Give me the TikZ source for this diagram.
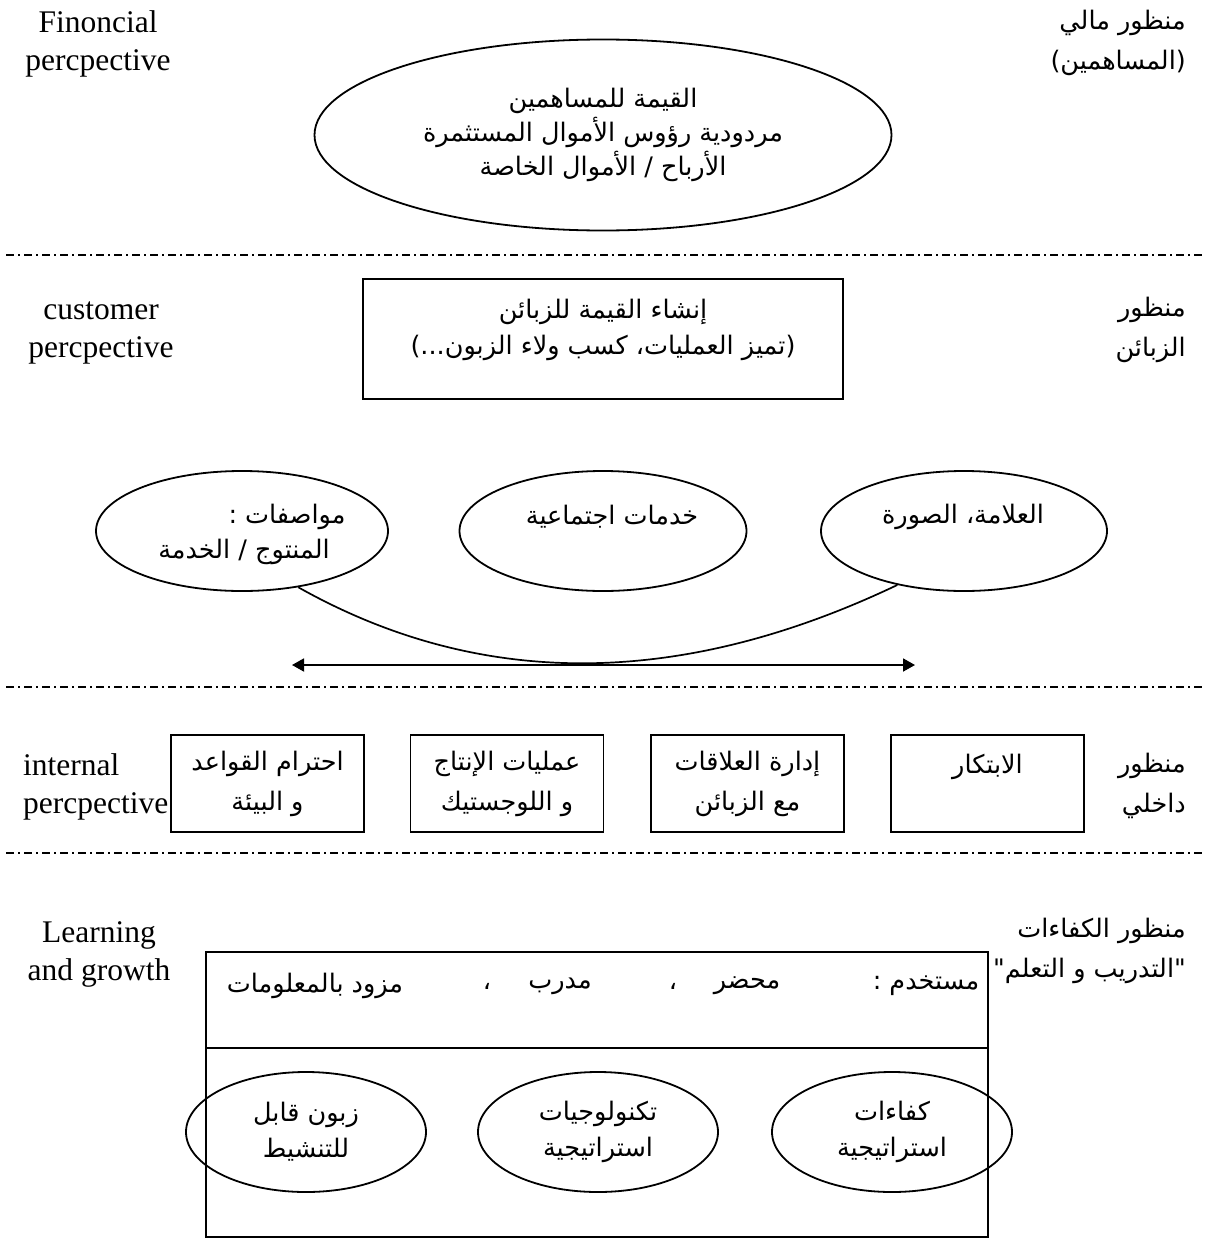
\documentclass[tikz,border=0pt]{standalone}
\usepackage{fontspec}
\setmainfont{Liberation Serif}
\newfontfamily\arabicfont[Script=Arabic]{DejaVu Sans}
\TeXXeTstate=1
\usetikzlibrary{shapes.geometric,arrows.meta,calc}
\newcommand{\rl}[1]{\beginR #1\endR}

\begin{document}
\begin{tikzpicture}[x=1pt,y=-1pt,
  en/.style={font=\fontsize{31.5}{38}\selectfont, inner sep=0pt},
  arlab/.style={font=\arabicfont\fontsize{25.5}{40}\selectfont, inner sep=0pt, align=right, anchor=east},
  artxt/.style={font=\arabicfont\fontsize{25.5}{36}\selectfont, inner sep=0pt, align=center},
  oval/.style={ellipse, draw, line width=1.8pt, inner sep=0pt},
  boxshape/.style={rectangle, draw, line width=1.8pt, inner sep=0pt},
  sepline/.style={line width=1.4pt, dash pattern=on 8pt off 4pt on 2pt off 4pt},
  link/.style={line width=1.7pt},
  twoway/.style={line width=1.8pt, >={Triangle[length=12pt,width=13pt]}, <->}]

\useasboundingbox[fill=white] (0,0) rectangle (1205,1239);

% ---------- financial perspective ----------
\node[en, align=center] (finEN) at (98,44) {Finoncial\\percpective};
\node[arlab] (finAR) at (1186,43) {\rl{منظور مالي}\\\rl{(المساهمين)}};
\node[oval, minimum width=577pt, minimum height=191pt, artxt, align=center,
  font=\arabicfont\fontsize{25.5}{34}\selectfont]
  (finOval) at (603,135)
  {\rl{القيمة للمساهمين}\\\rl{مردودية رؤوس الأموال المستثمرة}\\\rl{الأرباح / الأموال الخاصة}};

\coordinate (s1L) at (6,255);
\coordinate (s1R) at (1205,255);
\draw[sepline] (s1L) -- (s1R);

% ---------- customer perspective ----------
\node[en, align=center] (custEN) at (101,333) {customer\\percpective};
\node[arlab] (custAR) at (1186,330) {\rl{منظور}\\\rl{الزبائن}};
\node[boxshape, minimum width=480pt, minimum height=120pt] (custBox) at (603,339) {};
\node[artxt] (custTxt) at ($(custBox.center)+(0,-9)$)
  {\rl{إنشاء القيمة للزبائن}\\\rl{(تميز العمليات، كسب ولاء الزبون...)}};

\node[oval, minimum width=292pt, minimum height=120pt] (attrOval) at (242,531) {};
\node[oval, minimum width=287pt, minimum height=120pt] (servOval) at (603,531) {};
\node[oval, minimum width=286pt, minimum height=120pt] (imgOval) at (964,531) {};
\node[artxt] (attrTxtA) at (287,517) {\rl{مواصفات :}};
\node[artxt] (attrTxtB) at (244,552) {\rl{المنتوج / الخدمة}};
\node[artxt] (servTxt) at (612,517) {\rl{خدمات اجتماعية}};
\node[artxt] (imgTxt) at (963,517) {\rl{العلامة، الصورة}};

\draw[link] (attrOval.-45) .. controls (479,689) and (679,689) .. (imgOval.-141);

\coordinate (arrL) at (292,665);
\coordinate (arrR) at (915,665);
\draw[twoway] (arrL) -- (arrR);

\coordinate (s2L) at (6,687);
\coordinate (s2R) at (1205,687);
\draw[sepline] (s2L) -- (s2R);

% ---------- internal perspective ----------
\node[en, align=left, anchor=west] (intEN) at (23,787) {internal\\percpective};
\node[arlab] (intAR) at (1186,786) {\rl{منظور}\\\rl{داخلي}};
\begin{scope}[every node/.style={boxshape, minimum width=193pt, minimum height=97pt,
    font=\arabicfont\fontsize{25.5}{40}\selectfont, align=center}]
  \node (rulesBox) at (267.5,783.5) {\rl{احترام القواعد}\\\rl{و البيئة}};
  \node (prodBox)  at (507,783.5)   {\rl{عمليات الإنتاج}\\\rl{و اللوجستيك}};
  \node (relBox)   at (747.5,783.5) {\rl{إدارة العلاقات}\\\rl{مع الزبائن}};
  \node (innoBox)  at (987.5,783.5) {};
\end{scope}
\node[artxt] (innoTxt) at ($(innoBox.center)+(0,-17)$) {\rl{الابتكار}};

\coordinate (s3L) at (6,853);
\coordinate (s3R) at (1205,853);
\draw[sepline] (s3L) -- (s3R);

% ---------- learning and growth ----------
\node[en, align=center] (lrnEN) at (99,954) {Learning\\and growth};
\node[arlab] (lrnAR) at (1186,951) {\rl{منظور الكفاءات}\\\rl{"التدريب و التعلم"}};
\node[boxshape, minimum width=782pt, minimum height=96pt, anchor=north west] (roleBox) at (205,951) {};
\node[boxshape, minimum width=782pt, minimum height=189pt, anchor=north west] (resBox) at (205,1047) {};

\node[artxt] (roleA) at (926,986) {\rl{مستخدم :}};
\node[artxt] (roleB) at (747,986) {\rl{محضر}};
\node[artxt] (sepB) at (673,986) {\rl{،}};
\node[artxt] (roleC) at (560,986) {\rl{مدرب}};
\node[artxt] (sepC) at (487,986) {\rl{،}};
\node[artxt] (roleD) at (315,986) {\rl{مزود بالمعلومات}};

\node[oval, minimum width=240pt, minimum height=120pt, artxt] (custOval) at (306,1132)
  {\rl{زبون قابل}\\\rl{للتنشيط}};
\node[oval, minimum width=240pt, minimum height=120pt, artxt] (techOval) at (598,1132)
  {\rl{تكنولوجيات}\\\rl{استراتيجية}};
\node[oval, minimum width=240pt, minimum height=120pt, artxt] (compOval) at (892,1132)
  {\rl{كفاءات}\\\rl{استراتيجية}};
\end{tikzpicture}
\end{document}
